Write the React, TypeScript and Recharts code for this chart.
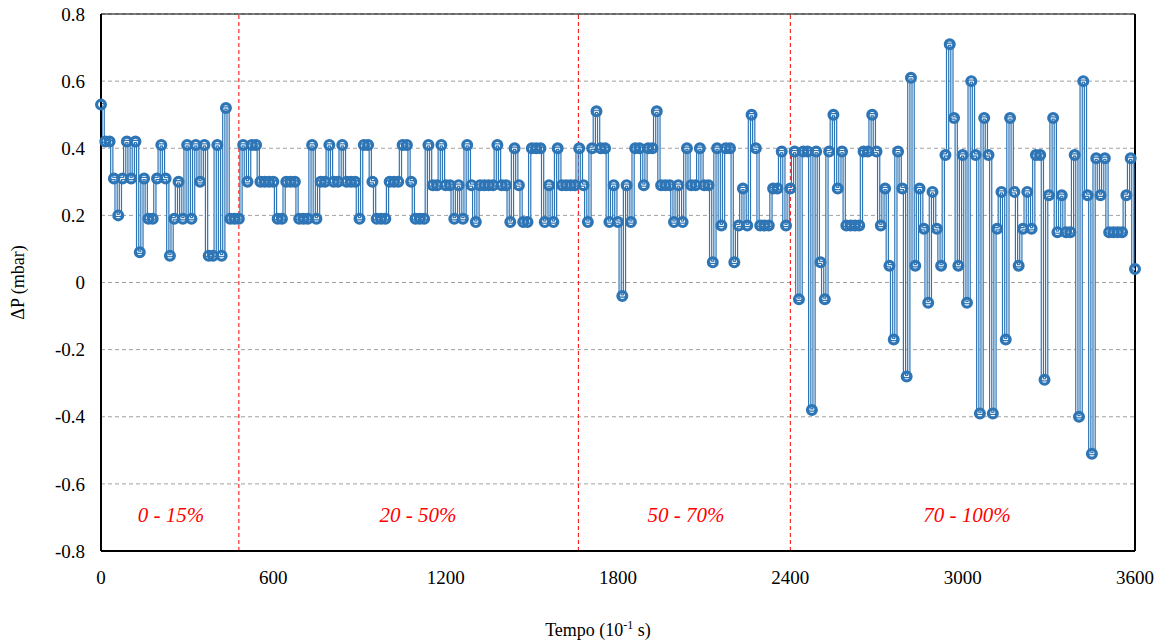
import {
  LineChart,
  Line,
  XAxis,
  YAxis,
  CartesianGrid,
  ReferenceLine,
  ReferenceDot,
} from 'recharts';

const FONT = '"Liberation Serif", "Times New Roman", serif';
const BLUE = '#2E75B6';
const RED = '#FF0000';

// one reading every 1.5 s (axis is in tenths of a second)
const SAMPLE_STEP = 15;

// pressure drop readings, mbar
const deltaP = [
  0.53, 0.42, 0.42, 0.31, 0.2, 0.31, 0.42, 0.31, 0.42, 0.09,
  0.31, 0.19, 0.19, 0.31, 0.41, 0.31, 0.08, 0.19, 0.3, 0.19,
  0.41, 0.19, 0.41, 0.3, 0.41, 0.08, 0.08, 0.41, 0.08, 0.52,
  0.19, 0.19, 0.19, 0.41, 0.3, 0.41, 0.41, 0.3, 0.3, 0.3,
  0.3, 0.19, 0.19, 0.3, 0.3, 0.3, 0.19, 0.19, 0.19, 0.41,
  0.19, 0.3, 0.3, 0.41, 0.3, 0.3, 0.41, 0.3, 0.3, 0.3,
  0.19, 0.41, 0.41, 0.3, 0.19, 0.19, 0.19, 0.3, 0.3, 0.3,
  0.41, 0.41, 0.3, 0.19, 0.19, 0.19, 0.41, 0.29, 0.29, 0.41,
  0.29, 0.29, 0.19, 0.29, 0.19, 0.41, 0.29, 0.18, 0.29, 0.29,
  0.29, 0.29, 0.41, 0.29, 0.29, 0.18, 0.4, 0.29, 0.18, 0.18,
  0.4, 0.4, 0.4, 0.18, 0.29, 0.18, 0.4, 0.29, 0.29, 0.29,
  0.29, 0.4, 0.29, 0.18, 0.4, 0.51, 0.4, 0.4, 0.18, 0.29,
  0.18, -0.04, 0.29, 0.18, 0.4, 0.4, 0.29, 0.4, 0.4, 0.51,
  0.29, 0.29, 0.29, 0.18, 0.29, 0.18, 0.4, 0.29, 0.29, 0.4,
  0.29, 0.29, 0.06, 0.4, 0.17, 0.4, 0.4, 0.06, 0.17, 0.28,
  0.17, 0.5, 0.4, 0.17, 0.17, 0.17, 0.28, 0.28, 0.39, 0.17,
  0.28, 0.39, -0.05, 0.39, 0.39, -0.38, 0.39, 0.06, -0.05, 0.39,
  0.5, 0.28, 0.39, 0.17, 0.17, 0.17, 0.17, 0.39, 0.39, 0.5,
  0.39, 0.17, 0.28, 0.05, -0.17, 0.39, 0.28, -0.28, 0.61, 0.05,
  0.28, 0.16, -0.06, 0.27, 0.16, 0.05, 0.38, 0.71, 0.49, 0.05,
  0.38, -0.06, 0.6, 0.38, -0.39, 0.49, 0.38, -0.39, 0.16, 0.27,
  -0.17, 0.49, 0.27, 0.05, 0.16, 0.27, 0.16, 0.38, 0.38, -0.29,
  0.26, 0.49, 0.15, 0.26, 0.15, 0.15, 0.38, -0.4, 0.6, 0.26,
  -0.51, 0.37, 0.26, 0.37, 0.15, 0.15, 0.15, 0.15, 0.26, 0.37,
  0.04,
];

const xTicks = [0, 600, 1200, 1800, 2400, 3000, 3600];
const yTicks = [-0.8, -0.6, -0.4, -0.2, 0, 0.2, 0.4, 0.6, 0.8];

// boundaries between the flow stages
const stageLimits = [480, 1662, 2400];
const stageNames = ['0 - 15%', '20 - 50%', '50 - 70%', '70 - 100%'];
const stageNameX = [244, 1104, 2037, 3015];
const stageNameY = -0.69;

const data = deltaP.map((dp, i) => ({ tempo: i * SAMPLE_STEP, dp }));

const formatY = (v: number) => (v === 0 ? '0' : v.toFixed(1));

const XTitle = ({ viewBox }: any) => {
  const cx = viewBox.x + viewBox.width / 2 - 20;
  return (
    <text x={cx} y={viewBox.y + viewBox.height - 5} textAnchor="middle" fontFamily={FONT} fontSize={18} fill="#000">
      <tspan>Tempo (10</tspan>
      <tspan dy={-7} fontSize={12}>-1</tspan>
      <tspan dy={7}> s)</tspan>
    </text>
  );
};

const YTitle = ({ viewBox }: any) => {
  const cy = viewBox.y + viewBox.height / 2;
  return (
    <text
      x={18}
      y={cy}
      transform={`rotate(-90, 18, ${cy})`}
      textAnchor="middle"
      dominantBaseline="central"
      fontFamily={FONT}
      fontSize={18}
      fill="#000"
    >
      ΔP (mbar)
    </text>
  );
};

export default function App() {
  return (
    <div style={{ position: 'absolute', left: 0, top: 0, width: 1165, height: 641, background: '#fff' }}>
      <LineChart width={1165} height={641} data={data} margin={{ top: 14, right: 30, bottom: 0, left: 0 }}>
        <CartesianGrid vertical={false} stroke="#A0A0A0" strokeDasharray="4 3" />
        <XAxis
          dataKey="tempo"
          type="number"
          domain={[0, 3600]}
          ticks={xTicks}
          tickLine={false}
          tickSize={0}
          tickMargin={20}
          height={90}
          axisLine={{ stroke: '#000', strokeWidth: 2 }}
          tick={{ fontSize: 19, fill: '#000', fontFamily: FONT }}
          label={{ content: XTitle }}
        />
        <YAxis
          type="number"
          domain={[-0.8, 0.8]}
          ticks={yTicks}
          tickFormatter={formatY}
          tickLine={false}
          tickSize={0}
          tickMargin={16}
          width={101}
          axisLine={{ stroke: '#000', strokeWidth: 2 }}
          tick={{ fontSize: 19, fill: '#000', fontFamily: FONT }}
          label={{ content: YTitle }}
        />
        <ReferenceLine y={0.8} stroke="#000" strokeWidth={1} />
        <ReferenceLine x={3600} stroke="#000" strokeWidth={2} />
        {stageLimits.map((x) => (
          <ReferenceLine key={x} x={x} stroke={RED} strokeWidth={1} strokeDasharray="4 3" />
        ))}
        {stageNames.map((name, i) => (
          <ReferenceDot
            key={name}
            x={stageNameX[i]}
            y={stageNameY}
            r={0}
            fill="none"
            stroke="none"
            label={{
              value: name,
              position: 'center',
              fill: RED,
              fontSize: 21,
              fontStyle: 'italic',
              fontFamily: FONT,
            }}
          />
        ))}
        {/* double-stroke step line: wide blue pass, thin white core on top */}
        <Line
          type="step"
          dataKey="dp"
          stroke={BLUE}
          strokeWidth={3.4}
          dot={false}
          activeDot={false}
          isAnimationActive={false}
        />
        <Line
          type="step"
          dataKey="dp"
          stroke="#FFFFFF"
          strokeWidth={1}
          dot={{ r: 4.4, stroke: BLUE, strokeWidth: 3.2, fill: 'none' }}
          activeDot={false}
          isAnimationActive={false}
        />
      </LineChart>
    </div>
  );
}
